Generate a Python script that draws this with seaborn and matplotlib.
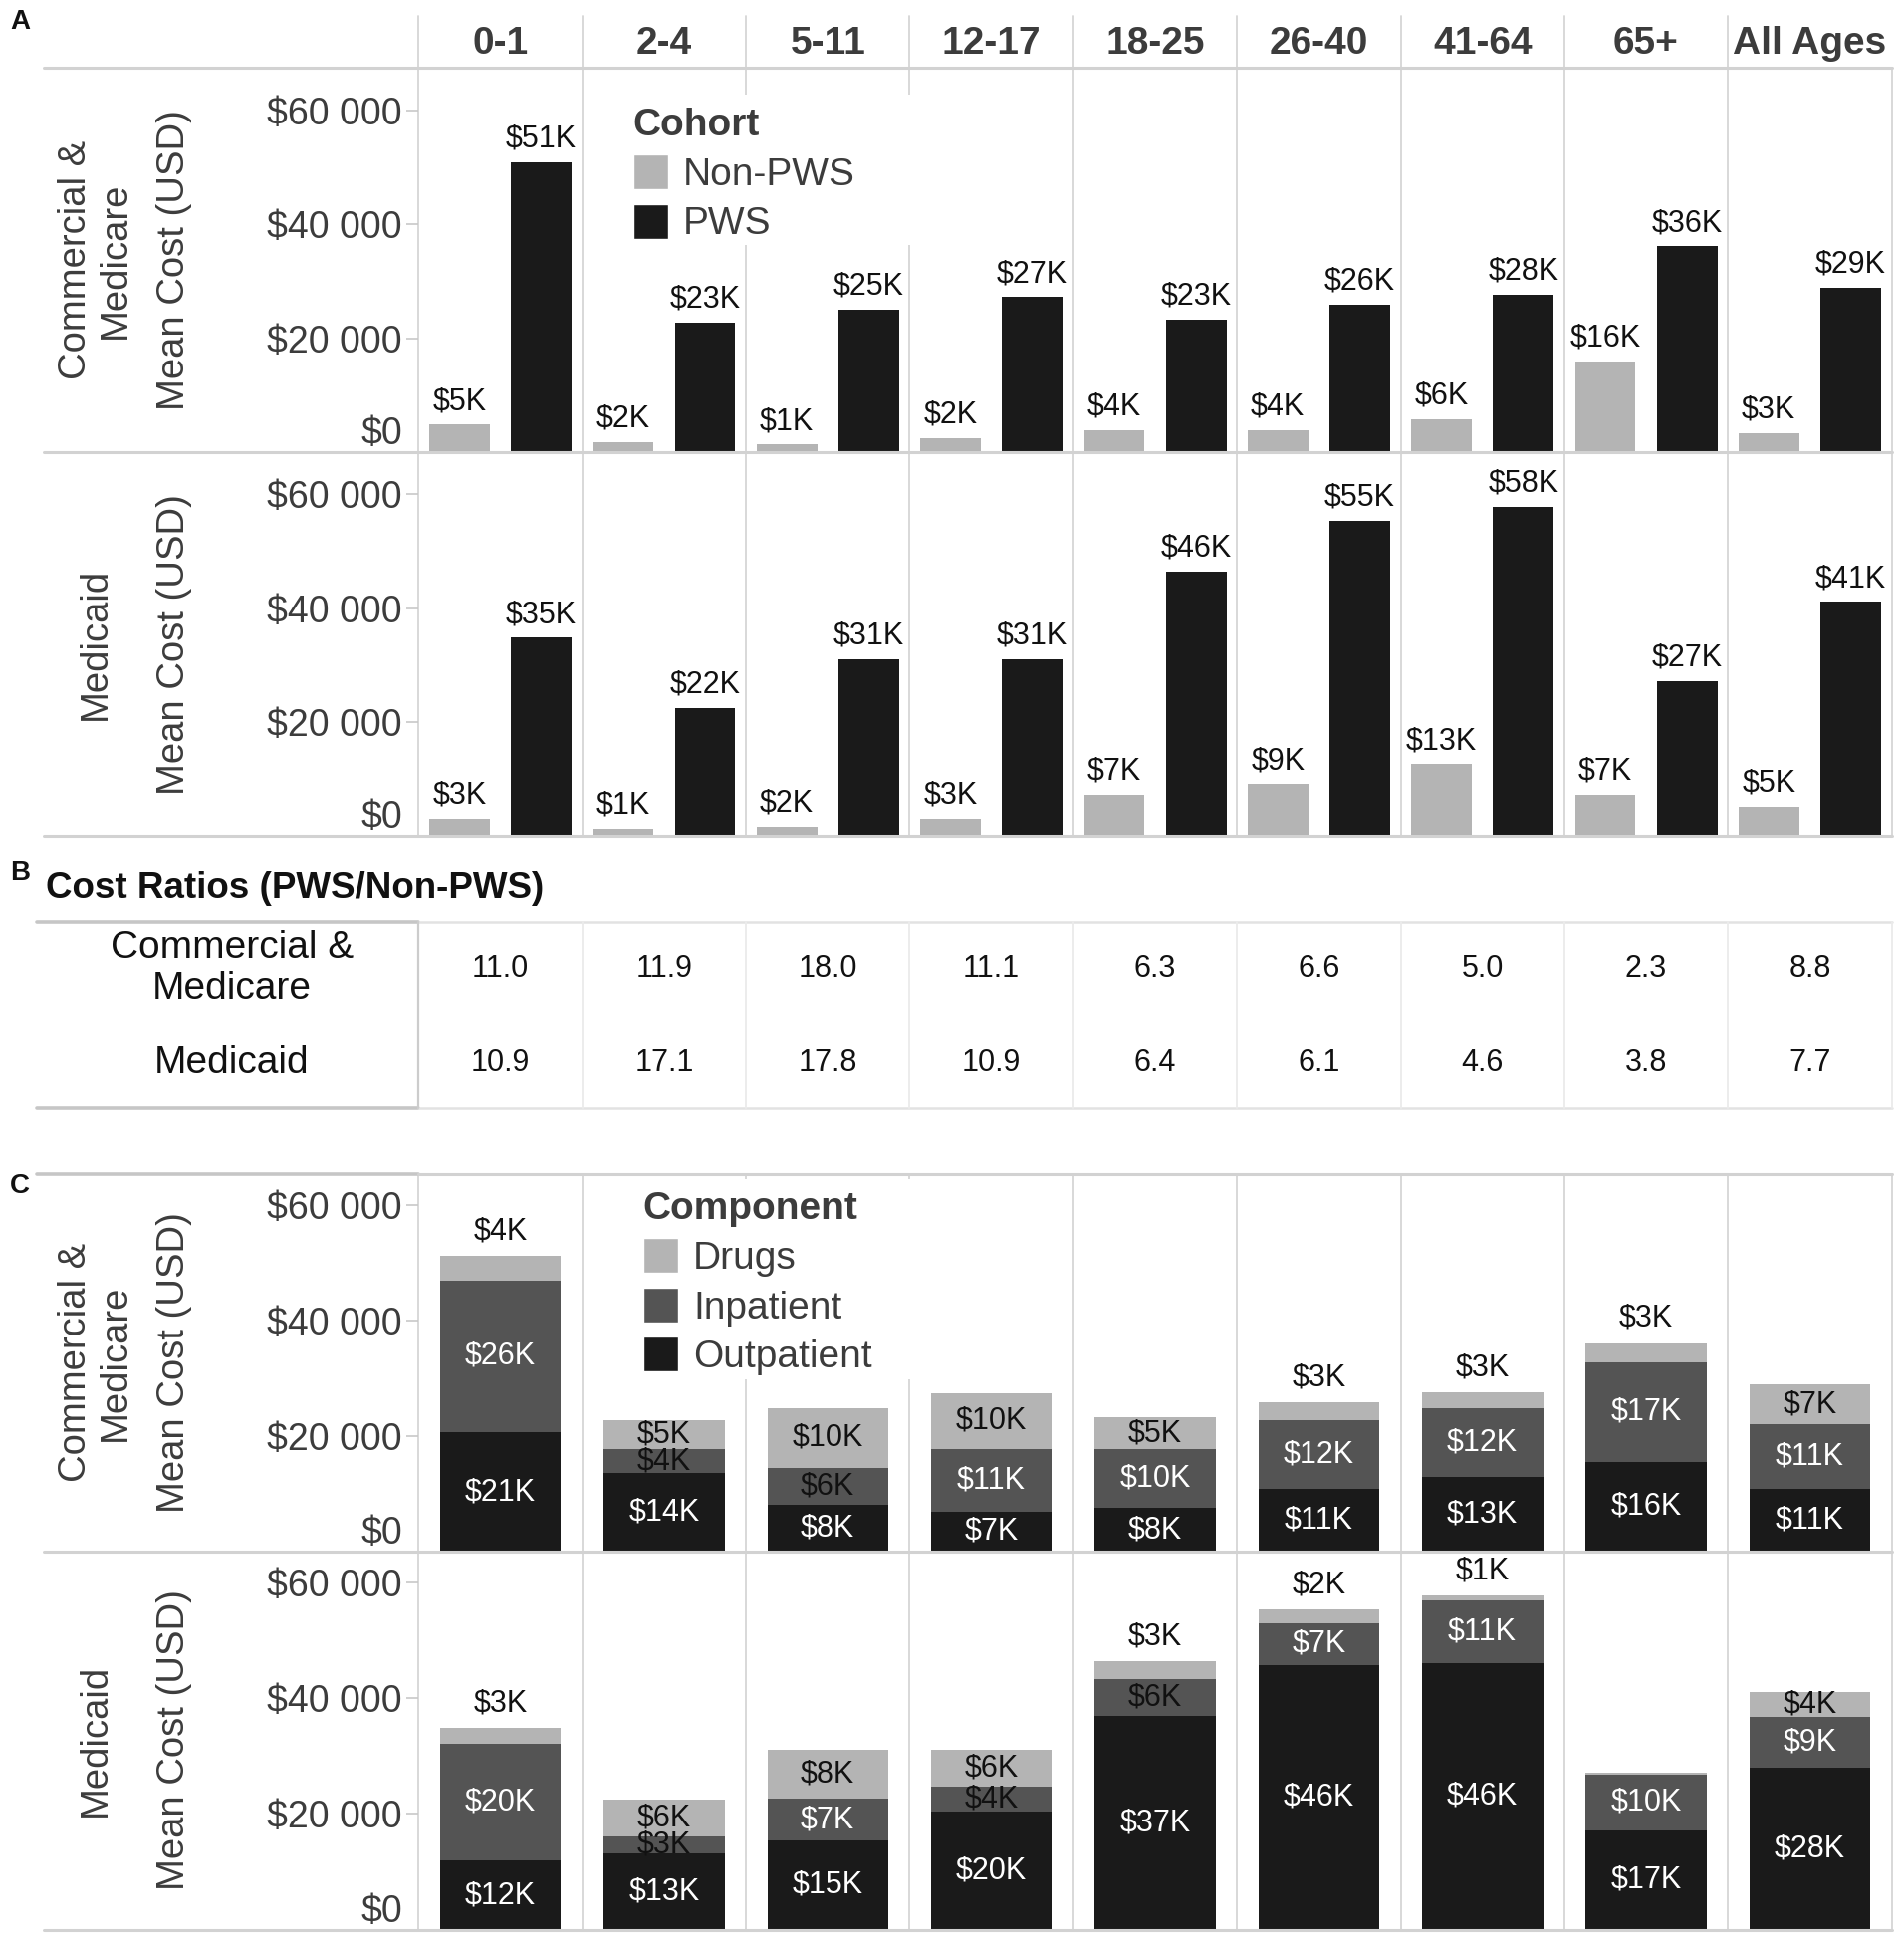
import matplotlib
matplotlib.use("Agg")
import matplotlib.pyplot as plt
from matplotlib.lines import Line2D
from matplotlib.patches import Patch, Rectangle
import numpy as np
import pandas as pd
import seaborn as sns

# --- data (mean cost in $K) ---
ages = ["0-1", "2-4", "5-11", "12-17", "18-25", "26-40", "41-64", "65+", "All Ages"]
cohorts = ["Non-PWS", "PWS"]
components = ["Drugs", "Inpatient", "Outpatient"]

comm_non_pws = [4.8, 1.7, 1.3, 2.4, 3.9, 3.9, 5.7, 15.9, 3.3]
comm_pws = [50.9, 22.8, 25.0, 27.2, 23.3, 25.9, 27.6, 36.1, 28.9]
mcd_non_pws = [3.0, 1.3, 1.7, 3.0, 7.2, 9.1, 12.6, 7.2, 5.2]
mcd_pws = [34.8, 22.4, 31.1, 31.1, 46.4, 55.3, 57.8, 27.2, 41.1]

ratio_comm = [11.0, 11.9, 18.0, 11.1, 6.3, 6.6, 5.0, 2.3, 8.8]
ratio_mcd = [10.9, 17.1, 17.8, 10.9, 6.4, 6.1, 4.6, 3.8, 7.7]

comm_outpatient = [20.7, 13.6, 8.1, 7.0, 7.6, 10.9, 13.0, 15.6, 10.9]
comm_inpatient = [26.2, 4.2, 6.4, 10.8, 10.2, 11.8, 11.8, 17.2, 11.2]
comm_drugs = [4.3, 4.9, 10.4, 9.6, 5.4, 3.2, 2.8, 3.3, 6.8]
mcd_outpatient = [11.9, 13.1, 15.4, 20.4, 37.0, 45.8, 46.0, 17.2, 28.0]
mcd_inpatient = [20.3, 3.0, 7.2, 4.3, 6.3, 7.2, 10.9, 9.6, 8.8]
mcd_drugs = [2.6, 6.3, 8.4, 6.3, 3.1, 2.3, 0.9, 0.4, 4.3]

cost_ticks = [0, 20, 40, 60]

# --- style ---
sns.set_style("white")
plt.rcParams["font.family"] = ["Liberation Sans", "DejaVu Sans"]

LIGHT = "#b4b4b4"
MID = "#545454"
DARK = "#1a1a1a"
TXT = "#3c3c3c"
SEP = "#d6d6d6"
LINE = "#d2d2d2"

W, H = 1537, 1568  # layout grid (pixels of the reference as seen)


def fx(x):
    return x / W


def fy(y):
    return 1 - y / H


fig = plt.figure(figsize=(19.12, 19.5), dpi=100)


def add_axes(x0, y0, x1, y1):
    return fig.add_axes([fx(x0), fy(y1), fx(x1) - fx(x0), fy(y0) - fy(y1)])


def hline(y, x0=35, x1=1527, color=LINE, lw=2.2):
    fig.add_artist(Line2D([fx(x0), fx(x1)], [fy(y), fy(y)], color=color, lw=lw, zorder=5))


def vline(x, y0, y1, color=SEP, lw=1.3):
    fig.add_artist(Line2D([fx(x), fx(x)], [fy(y0), fy(y1)], color=color, lw=lw, zorder=5))


X0, X1 = 338, 1527
COLW = (X1 - X0) / len(ages)


def style_cost_axes(ax, ymax):
    ax.set_xlim(-0.5, len(ages) - 0.5)
    ax.set_ylim(0, ymax)
    ax.set_xlabel("")
    ax.set_ylabel("")
    ax.set_xticks([])
    ax.set_yticks(cost_ticks)
    ax.set_yticklabels([f"${v * 1000:,.0f}".replace(",", " ") for v in cost_ticks])
    for s in ax.spines.values():
        s.set_visible(False)
    ax.tick_params(axis="y", left=True, length=9, width=1.2, color="#c8c8c8", pad=3,
                   labelsize=27, labelcolor=TXT)
    for lbl in ax.get_yticklabels():
        if lbl.get_text() == "$0":
            lbl.set_va("bottom")
    for b in np.arange(-0.5, len(ages)):
        ax.axvline(b, color=SEP, lw=1.3, zorder=0, clip_on=False)


def row_titles(y_center, name):
    fig.text(fx(77), fy(y_center), name, rotation=90, ha="center", va="center",
             fontsize=27.5, color=TXT, linespacing=1.15, multialignment="center")
    fig.text(fx(141), fy(y_center), "Mean Cost (USD)", rotation=90, ha="center",
             va="center", fontsize=27.5, color=TXT)


def cover(ax, x0, y0, x1, y1):
    ax.add_patch(Rectangle((fx(x0), fy(y1)), fx(x1) - fx(x0), fy(y0) - fy(y1),
                           transform=fig.transFigure, facecolor="white",
                           edgecolor="none", zorder=3))


def legend(ax, handles, title, x, y):
    leg = ax.legend(handles=handles, title=title, loc="upper left",
                    bbox_to_anchor=(fx(x), fy(y)), bbox_transform=fig.transFigure,
                    frameon=False, alignment="left", borderaxespad=0, borderpad=0,
                    fontsize=28, title_fontproperties={"weight": "bold", "size": 28},
                    handlelength=0.92, handleheight=1.0, handletextpad=0.38,
                    labelspacing=0.28, labelcolor=TXT)
    leg.get_title().set_color(TXT)
    leg.set_zorder(6)


# ---------------- panel A ----------------
def cohort_bars(ax, non, pws):
    df = pd.DataFrame({"age": ages * 2,
                       "cohort": ["Non-PWS"] * len(ages) + ["PWS"] * len(ages),
                       "cost": non + pws})
    sns.barplot(data=df, x="age", y="cost", hue="cohort", order=ages, hue_order=cohorts,
                palette=[LIGHT, DARK], width=1.0, gap=0.26, saturation=1,
                errorbar=None, legend=False, linewidth=0, ax=ax)
    for c in ax.containers:
        ax.bar_label(c, labels=[f"${b.get_height():.0f}K" for b in c], padding=6,
                     fontsize=22, color="#111111")
    style_cost_axes(ax, 67.4)


axA1 = add_axes(X0, 55, X1, 365)
cohort_bars(axA1, comm_non_pws, comm_pws)
axA2 = add_axes(X0, 365, X1, 675)
cohort_bars(axA2, mcd_non_pws, mcd_pws)

cover(axA1, 500, 76, 742, 198)
legend(axA1, [Patch(facecolor=LIGHT, label="Non-PWS"), Patch(facecolor=DARK, label="PWS")],
       "Cohort", 511, 87)

# header row with age groups
for i, age in enumerate(ages):
    fig.text(fx(X0 + (i + 0.5) * COLW), fy(35), age, ha="center", va="center",
             fontsize=28, weight="bold", color=TXT)
    vline(X0 + i * COLW, 13, 55)

for y in (55, 365, 675):
    hline(y)

row_titles(210, "Commercial &\nMedicare")
row_titles(520, "Medicaid")

# ---------------- panel B ----------------
fig.text(fx(37), fy(718), "Cost Ratios (PWS/Non-PWS)", ha="left", va="center",
         fontsize=26.5, weight="bold", color="#111111")
for y in (745, 895):
    hline(y, 30, X0, color="#c6c6c6", lw=2.6)
    hline(y, X0, X1, color="#e2e2e2", lw=1.8)
vline(X0, 745, 895, color="#cccccc", lw=1.6)
for i in range(1, len(ages) + 1):
    vline(X0 + i * COLW, 745, 895, color="#ebebeb", lw=1.3)

for yrow, name, ratios in ((782, "Commercial &\nMedicare", ratio_comm),
                           (858, "Medicaid", ratio_mcd)):
    fig.text(fx(187), fy(yrow), name, ha="center", va="center", fontsize=28,
             color="#111111", linespacing=1.15, multialignment="center")
    for i, r in enumerate(ratios):
        fig.text(fx(X0 + (i + 0.5) * COLW), fy(yrow), f"{r:.1f}", ha="center",
                 va="center", fontsize=22, color="#111111")


# ---------------- panel C ----------------
def component_bars(ax, outp, inp, drugs):
    outp = np.array(outp)
    inp = np.array(inp)
    drugs = np.array(drugs)
    total = outp + inp + drugs
    layers = [(total, LIGHT), (outp + inp, MID), (outp, DARK)]
    for heights, color in layers:
        sns.barplot(x=ages, y=heights, order=ages, color=color, width=0.74,
                    saturation=1, errorbar=None, linewidth=0, ax=ax)
    for i in range(len(ages)):
        ax.text(i, outp[i] / 2, f"${outp[i]:.0f}K", ha="center", va="center",
                fontsize=22, color="white", zorder=4)
        ax.text(i, outp[i] + inp[i] / 2, f"${inp[i]:.0f}K", ha="center", va="center",
                fontsize=22, color="white" if inp[i] >= 7 else "#111111", zorder=4)
        if drugs[i] < 0.5:
            continue
        if drugs[i] < 4 or drugs[i] / total[i] < 0.09:
            ax.annotate(f"${drugs[i]:.0f}K", (i, total[i]), xytext=(0, 7),
                        textcoords="offset points", ha="center", va="bottom",
                        fontsize=22, color="#111111", zorder=4)
        else:
            ax.text(i, outp[i] + inp[i] + drugs[i] / 2, f"${drugs[i]:.0f}K",
                    ha="center", va="center", fontsize=22, color="#111111", zorder=4)
    style_cost_axes(ax, 65.3)


axC1 = add_axes(X0, 948, X1, 1253)
component_bars(axC1, comm_outpatient, comm_inpatient, comm_drugs)
axC2 = add_axes(X0, 1253, X1, 1558)
component_bars(axC2, mcd_outpatient, mcd_inpatient, mcd_drugs)

cover(axC1, 508, 952, 742, 1114)
legend(axC1, [Patch(facecolor=LIGHT, label="Drugs"), Patch(facecolor=MID, label="Inpatient"),
              Patch(facecolor=DARK, label="Outpatient")], "Component", 519, 962)

hline(948, 30, X0, color="#c6c6c6", lw=2.6)
hline(948, X0, X1)
for y in (1253, 1558):
    hline(y)

row_titles(1100, "Commercial &\nMedicare")
row_titles(1405, "Medicaid")

# panel letters
for letter, y in (("A", 18), ("B", 705), ("C", 958)):
    fig.text(fx(8), fy(y), letter, ha="left", va="center", fontsize=20, weight="bold",
             color="#111111")

fig.savefig("out.png", dpi=100)
